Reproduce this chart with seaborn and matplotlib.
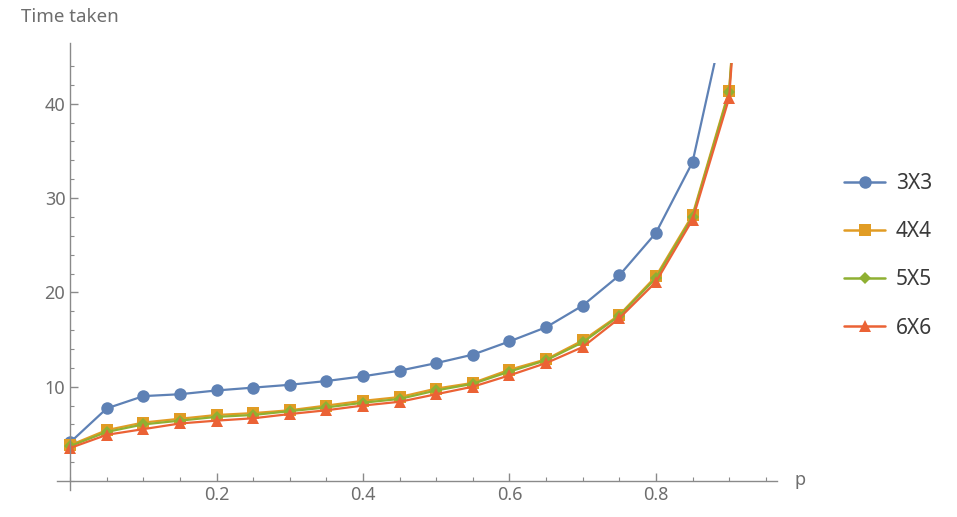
import pandas as pd
import numpy as np
import seaborn as sns
import matplotlib.pyplot as plt
from matplotlib.ticker import MultipleLocator, FixedLocator
from matplotlib.lines import Line2D

# Values
p = [0.0, 0.05, 0.1, 0.15, 0.2, 0.25, 0.3, 0.35, 0.4, 0.45,
     0.5, 0.55, 0.6, 0.65, 0.7, 0.75, 0.8, 0.85, 0.9, 0.95]
t_3x3 = [4.1, 7.7, 9.0, 9.2, 9.6, 9.9, 10.2, 10.6, 11.1, 11.7,
         12.5, 13.4, 14.8, 16.3, 18.6, 21.8, 26.3, 33.8, 51.3, 120]
t_4x4 = [3.8, 5.4, 6.2, 6.6, 7.0, 7.2, 7.5, 8.0, 8.5, 8.9,
         9.8, 10.4, 11.8, 12.9, 14.9, 17.6, 21.7, 28.2, 41.4, 96]
t_5x5 = [3.7, 5.2, 6.0, 6.4, 6.8, 7.0, 7.4, 7.8, 8.3, 8.7,
         9.6, 10.3, 11.6, 12.8, 14.7, 17.5, 21.5, 28.0, 41.2, 95]
t_6x6 = [3.5, 4.9, 5.5, 6.1, 6.4, 6.65, 7.1, 7.5, 8.0, 8.4,
         9.2, 10.0, 11.2, 12.5, 14.2, 17.25, 21.1, 27.7, 40.6, 94]
sizes = ["3X3", "4X4", "5X5", "6X6"]
colors = ["#5E81B5", "#E19C24", "#8FB032", "#EB6235"]
markers = ["o", "s", "D", "^"]
msizes = [9, 9, 6.5, 9]

sns.set_style("white")
plt.rcParams['font.family'] = ['Noto Sans', 'DejaVu Sans']

fig = plt.figure(figsize=(9.57, 5.17), dpi=100)
ax = fig.add_axes([0.0596, 0.0514, 0.752, 0.8264])

for s, vals, c, m, ms in zip(sizes, [t_3x3, t_4x4, t_5x5, t_6x6], colors, markers, msizes):
    sns.lineplot(x=p, y=vals, color=c, marker=m, markersize=ms, markeredgewidth=0,
                 linewidth=1.6, ax=ax)

axis_col = "#8a8a8a"
lab_col = "#6e6e6e"
ax.set_xlim(-0.018, 0.965)
ax.set_ylim(-1, 44.3)
for s in ["top", "right"]:
    ax.spines[s].set_visible(False)
ax.spines["bottom"].set_position(("data", 0))
ax.spines["left"].set_position(("data", 0))
ax.spines["left"].set_bounds(-1, 46.4)
for s in ["bottom", "left"]:
    ax.spines[s].set_color(axis_col)
    ax.spines[s].set_linewidth(1.0)

ax.xaxis.set_major_locator(FixedLocator([0.2, 0.4, 0.6, 0.8]))
ax.xaxis.set_minor_locator(FixedLocator([0.0, 0.05, 0.1, 0.15, 0.25, 0.3, 0.35,
                                         0.45, 0.5, 0.55, 0.65, 0.7, 0.75, 0.85, 0.9, 0.95]))
ax.yaxis.set_major_locator(FixedLocator([10, 20, 30, 40]))
ax.yaxis.set_minor_locator(MultipleLocator(2))
ax.tick_params(which="both", direction="in", colors=axis_col, labelcolor=lab_col,
               labelsize=13, bottom=True, left=True)
ax.tick_params(which="major", length=5.5, width=1.0)
ax.tick_params(which="minor", length=3, width=0.8)
ax.set_xticklabels(["0.2", "0.4", "0.6", "0.8"])
ax.set_yticklabels(["10", "20", "30", "40"])
ax.set_xlabel("")
ax.set_ylabel("")

fig.text(0.022, 0.968, "Time taken", color=lab_col, fontsize=13.5, va="center", ha="left")
fig.text(0.830, 0.071, "p", color=lab_col, fontsize=13, va="center", ha="left")

handles = [Line2D([], [], color=c, marker=m, markersize=ms, markeredgewidth=0, linewidth=1.8)
           for c, m, ms in zip(colors, markers, msizes)]
leg = fig.legend(handles, sizes, loc="center left", bbox_to_anchor=(0.862, 0.505),
                 frameon=False, fontsize=15, handlelength=2.0, labelspacing=1.3,
                 handletextpad=0.5)
for txt in leg.get_texts():
    txt.set_color("#3a3a3a")

plt.savefig("out.png", dpi=100)
